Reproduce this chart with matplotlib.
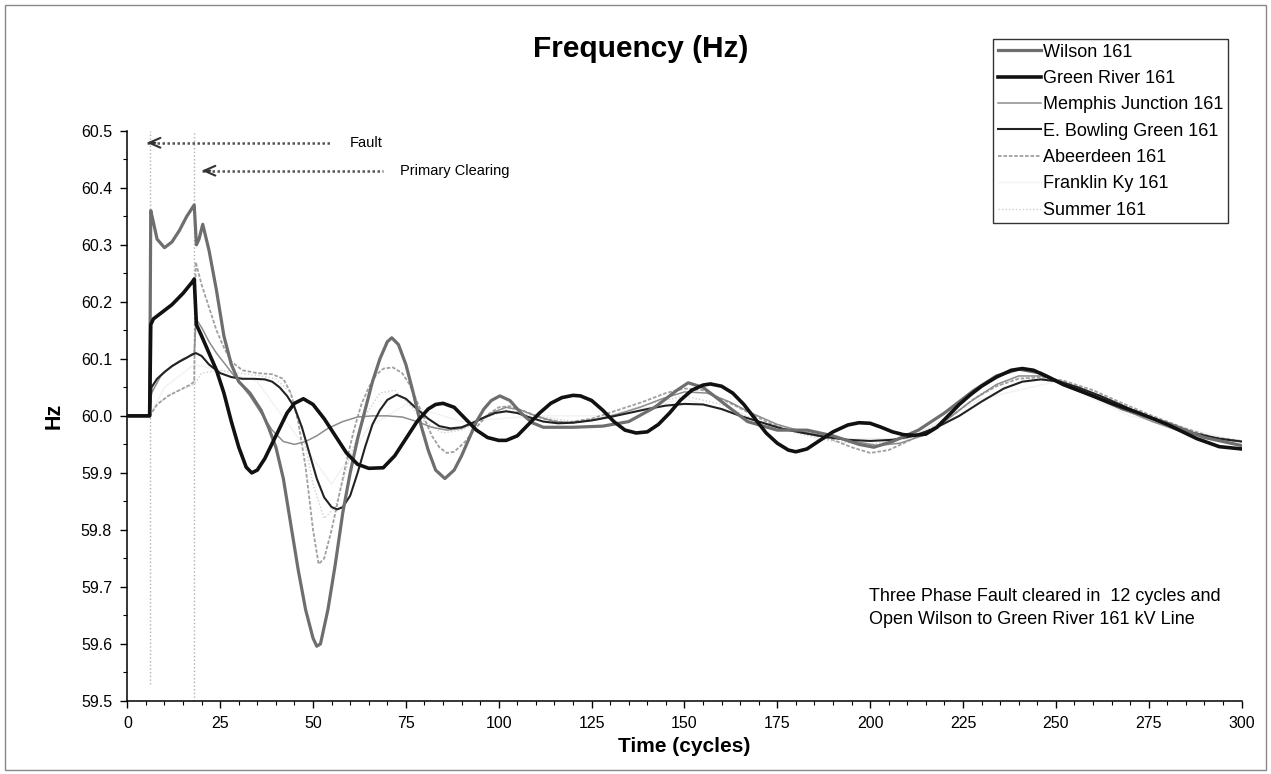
import matplotlib
matplotlib.use("Agg")
import matplotlib.pyplot as plt
from matplotlib.patches import Rectangle
from matplotlib.ticker import MultipleLocator, FormatStrFormatter

plt.rcParams['font.family'] = ['Liberation Sans', 'DejaVu Sans']

# ---- data (time in cycles, frequency in Hz) ----
wilson_t = [0, 6, 6.3, 7, 8, 10, 12, 14, 16, 18, 18.6, 19.3, 20.3, 22, 24, 26, 28, 30, 33, 36,
            38, 40, 42, 44, 46, 48, 50, 51, 52, 54, 56, 58, 60, 62, 64, 66, 68, 70, 71.2, 73,
            75, 77, 79, 81, 83, 85.5, 88, 90, 92, 94, 96, 98, 100.3, 103, 106, 109, 112, 120,
            128, 135, 142, 148, 151, 155, 160, 167, 175, 183, 190, 197, 201, 206, 213, 220,
            228, 234, 240, 246, 252, 260, 268, 275, 281, 290, 300]
wilson_f = [60.0, 60.0, 60.36, 60.34, 60.31, 60.295, 60.305, 60.325, 60.35, 60.37, 60.30, 60.31,
            60.336, 60.29, 60.22, 60.14, 60.09, 60.06, 60.04, 60.01, 59.98, 59.945, 59.89, 59.81,
            59.73, 59.66, 59.61, 59.596, 59.60, 59.66, 59.74, 59.83, 59.90, 59.96, 60.01, 60.06,
            60.10, 60.13, 60.137, 60.125, 60.09, 60.04, 59.985, 59.94, 59.905, 59.89, 59.905,
            59.93, 59.96, 59.99, 60.012, 60.027, 60.035, 60.027, 60.005, 59.988, 59.98, 59.98,
            59.982, 59.99, 60.015, 60.045, 60.058, 60.05, 60.025, 59.99, 59.975, 59.975, 59.965,
            59.95, 59.945, 59.955, 59.975, 60.005, 60.045, 60.07, 60.082, 60.075, 60.055, 60.035,
            60.012, 59.998, 59.985, 59.962, 59.948]

green_t = [0, 6, 6.3, 7, 9, 12, 15, 17.5, 18, 18.6, 20, 22, 24, 26, 28, 30, 32, 33.5, 35, 37, 40,
           43, 45, 47.4, 50, 53, 56, 59, 62, 65, 68.9, 72, 75, 78, 81, 83, 85, 88, 91, 94, 97, 100,
           102, 105, 108, 111, 114, 117, 120, 122, 125, 128, 131, 134, 137, 140, 143, 146, 149,
           152, 155, 157, 160, 163, 166, 169, 172, 175, 178, 180, 183, 186, 190, 194, 197, 200,
           203, 206, 209, 212, 215, 218, 221, 224, 227, 230, 234, 238, 241, 244, 248, 252, 258,
           265, 272, 280, 288, 294, 300]
green_f = [60.0, 60.0, 60.16, 60.17, 60.18, 60.195, 60.215, 60.235, 60.24, 60.16, 60.14, 60.11,
           60.08, 60.04, 59.99, 59.945, 59.91, 59.90, 59.905, 59.925, 59.965, 60.005, 60.022,
           60.03, 60.02, 59.995, 59.965, 59.935, 59.915, 59.908, 59.909, 59.93, 59.96, 59.99,
           60.012, 60.02, 60.022, 60.015, 59.995, 59.975, 59.962, 59.957, 59.957, 59.965, 59.985,
           60.005, 60.022, 60.032, 60.036, 60.035, 60.027, 60.01, 59.99, 59.975, 59.97, 59.972,
           59.985, 60.005, 60.028, 60.045, 60.054, 60.056, 60.052, 60.04, 60.02, 59.995, 59.97,
           59.952, 59.94, 59.937, 59.942, 59.955, 59.972, 59.984, 59.988, 59.987, 59.98, 59.972,
           59.967, 59.966, 59.968, 59.98, 60.0, 60.02, 60.037, 60.052, 60.068, 60.08, 60.083,
           60.08, 60.068, 60.055, 60.04, 60.022, 60.006, 59.985, 59.96, 59.946, 59.942]

memphis_t = [0, 6, 6.5, 9, 12, 15, 18, 18.5, 20, 22, 24, 27, 30, 33, 36, 39, 42, 45, 48, 51, 54,
             58, 62, 66, 70, 74, 78, 82, 86, 90, 94, 98, 102, 106, 110, 115, 120, 126, 132, 138,
             144, 150, 156, 162, 168, 175, 182, 189, 196, 202, 208, 214, 220, 227, 234, 240, 246,
             252, 260, 268, 276, 284, 292, 300]
memphis_f = [60.0, 60.0, 60.04, 60.07, 60.088, 60.1, 60.108, 60.17, 60.155, 60.13, 60.11, 60.085,
             60.06, 60.035, 60.005, 59.975, 59.955, 59.95, 59.955, 59.965, 59.978, 59.99, 59.998,
             60.0, 60.0, 59.998, 59.99, 59.98, 59.975, 59.978, 59.99, 60.005, 60.015, 60.01, 60.0,
             59.99, 59.988, 59.993, 60.003, 60.015, 60.03, 60.042, 60.04, 60.025, 60.005, 59.985,
             59.972, 59.963, 59.955, 59.948, 59.952, 59.965, 59.99, 60.025, 60.055, 60.07, 60.07,
             60.06, 60.038, 60.012, 59.99, 59.972, 59.96, 59.955]

bowling_t = [0, 6, 6.5, 8, 10, 12, 14, 16, 17.5, 18.5, 20, 22, 25, 28, 31, 34, 37, 39, 41, 43, 45,
             47, 49, 51, 53, 55, 56.5, 58, 60, 62, 64, 66, 68, 70, 72.5, 75, 78, 81, 84, 87, 90,
             93, 96, 99, 102, 105, 108, 112, 116, 120, 125, 130, 135, 140, 145, 150, 155, 160,
             165, 170, 176, 182, 188, 194, 200, 206, 212, 218, 224, 230, 236, 241, 246, 251, 256,
             262, 268, 274, 280, 287, 294, 300]
bowling_f = [60.0, 60.0, 60.05, 60.065, 60.077, 60.087, 60.095, 60.102, 60.108, 60.11, 60.105,
             60.09, 60.075, 60.068, 60.065, 60.065, 60.064, 60.06, 60.05, 60.035, 60.015, 59.98,
             59.935, 59.89, 59.857, 59.84, 59.836, 59.84, 59.86, 59.9, 59.945, 59.985, 60.01,
             60.028, 60.037, 60.03, 60.012, 59.995, 59.982, 59.978, 59.98, 59.988, 59.997, 60.005,
             60.008, 60.005, 59.998, 59.99, 59.987, 59.988, 59.992, 59.998, 60.005, 60.012, 60.018,
             60.021, 60.02, 60.012, 60.0, 59.99, 59.978, 59.97, 59.963, 59.958, 59.956, 59.958,
             59.965, 59.98, 60.0, 60.025, 60.048, 60.06, 60.064, 60.06, 60.05, 60.035, 60.018,
             60.0, 59.985, 59.97, 59.96, 59.955]

abeer_t = [0, 6, 8, 11, 14, 17, 18, 18.4, 20, 22, 24, 26, 28, 31, 35, 39, 42, 44, 46, 48, 50,
           51.5, 53, 55, 57, 59, 61, 63, 65, 67, 69, 71.5, 74, 76, 78, 80, 82, 84, 86, 88, 91, 94,
           97, 100, 103, 107, 112, 118, 125, 132, 139, 145, 150, 155, 160, 166, 172, 178, 184,
           190, 195, 200, 205, 210, 216, 222, 228, 234, 240, 246, 252, 260, 268, 276, 284, 292, 300]
abeer_f = [60.0, 60.0, 60.02, 60.035, 60.045, 60.055, 60.06, 60.27, 60.23, 60.19, 60.15, 60.12,
           60.095, 60.08, 60.075, 60.073, 60.065, 60.04, 59.99, 59.91, 59.8, 59.74, 59.75, 59.8,
           59.86, 59.92, 59.975, 60.02, 60.05, 60.072, 60.083, 60.085, 60.075, 60.055, 60.025,
           59.995, 59.965, 59.945, 59.935, 59.937, 59.955, 59.98, 60.002, 60.015, 60.017, 60.008,
           59.995, 59.988, 59.995, 60.01, 60.025, 60.04, 60.048, 60.045, 60.03, 60.01, 59.99,
           59.975, 59.968, 59.958, 59.945, 59.935, 59.94, 59.955, 59.975, 60.0, 60.03, 60.052,
           60.065, 60.068, 60.062, 60.045, 60.022, 60.0, 59.98, 59.963, 59.956]

franklin_t = [0, 6, 10, 18, 25, 35, 45, 55, 65, 75, 90, 110, 130, 150, 170, 190, 210, 230, 250,
              270, 300]
franklin_f = [60.0, 60.0, 60.05, 60.09, 60.08, 60.06, 59.97, 59.88, 59.98, 60.02, 59.99, 60.0,
              60.0, 60.03, 59.99, 59.96, 59.96, 60.03, 60.06, 60.0, 59.955]

summer_t = [0, 6, 8, 12, 18, 20, 25, 30, 36, 40, 44, 47, 50, 53, 56, 60, 64, 68, 72, 76, 80, 85,
            90, 96, 102, 110, 120, 130, 140, 150, 160, 170, 180, 190, 200, 210, 220, 230, 240,
            250, 260, 270, 280, 290, 300]
summer_f = [60.0, 60.0, 60.02, 60.04, 60.055, 60.075, 60.08, 60.075, 60.07, 60.065, 60.04, 59.98,
            59.88, 59.82, 59.84, 59.93, 60.0, 60.04, 60.045, 60.02, 59.99, 59.97, 59.975, 59.995,
            60.01, 60.0, 59.99, 60.0, 60.02, 60.035, 60.02, 59.99, 59.97, 59.955, 59.95, 59.96,
            59.99, 60.04, 60.068, 60.06, 60.035, 60.005, 59.98, 59.962, 59.955]

fault_cycle = 6
clearing_cycle = 18

# ---- canvas ----
fig = plt.figure(figsize=(12.71, 7.74), dpi=100)
ax = fig.add_axes([0.1002, 0.0944, 0.8766, 0.7366])

# event markers
ax.vlines(fault_cycle, 59.53, 60.5, colors="#b0b0b0", linestyles=":", linewidth=1, zorder=1)
ax.vlines(clearing_cycle, 59.5, 60.5, colors="#b0b0b0", linestyles=":", linewidth=1, zorder=1)

# series (drawing order: faint first, bold last)
ax.plot(franklin_t, franklin_f, color="#f2f2f2", lw=1.0, label="Franklin Ky 161", zorder=2)
ax.plot(summer_t, summer_f, color="#cfcfcf", lw=1.0, ls=(0, (1, 1.5)), label="Summer 161", zorder=2)
ax.plot(abeer_t, abeer_f, color="#a0a0a0", lw=1.3, ls=(0, (2, 1)), label="Abeerdeen 161", zorder=3)
ax.plot(memphis_t, memphis_f, color="#8c8c8c", lw=1.1, label="Memphis Junction 161", zorder=3)
ax.plot(bowling_t, bowling_f, color="#222222", lw=1.5, label="E. Bowling Green 161", zorder=4)
ax.plot(wilson_t, wilson_f, color="#6e6e6e", lw=2.3, label="Wilson 161", zorder=4)
ax.plot(green_t, green_f, color="#111111", lw=2.6, label="Green River 161", zorder=5)

# axes
ax.set_xlim(0, 300)
ax.set_ylim(59.5, 60.5)
ax.xaxis.set_major_locator(MultipleLocator(25))
ax.xaxis.set_minor_locator(MultipleLocator(5))
ax.yaxis.set_major_locator(MultipleLocator(0.1))
ax.yaxis.set_minor_locator(MultipleLocator(0.05))
ax.yaxis.set_major_formatter(FormatStrFormatter("%.1f"))
ax.tick_params(which="major", direction="out", length=5, width=1, labelsize=11.5, pad=6)
ax.tick_params(which="minor", direction="out", length=3, width=0.8)
for side in ("top", "right"):
    ax.spines[side].set_visible(False)
for side in ("left", "bottom"):
    ax.spines[side].set_linewidth(1.1)

ax.set_xlabel("Time (cycles)", fontsize=15, fontweight="bold", labelpad=4)
ax.set_ylabel("Hz", fontsize=15.5, fontweight="bold", labelpad=12)
fig.text(0.504, 1 - 49 / 774, "Frequency (Hz)", fontsize=21.5, fontweight="bold",
         ha="center", va="center")

# fault / clearing arrows
arrow_kw = dict(arrowstyle="->,head_length=0.8,head_width=0.35", color="#333333", lw=1.5,
                shrinkA=0, shrinkB=0)
fault_y, clear_y = 60.479, 60.43
ax.plot([5.4, 54.6], [fault_y, fault_y], color="#555555", lw=1.8, ls=(0, (1, 1)))
ax.annotate("", xy=(5.2, fault_y), xytext=(7.5, fault_y), arrowprops=arrow_kw)
ax.text(59.9, fault_y, "Fault", fontsize=10.5, va="center", ha="left")
ax.plot([20.2, 68.8], [clear_y, clear_y], color="#555555", lw=1.8, ls=(0, (1, 1)))
ax.annotate("", xy=(20.0, clear_y), xytext=(22.3, clear_y), arrowprops=arrow_kw)
ax.text(73.4, clear_y, "Primary Clearing", fontsize=10.5, va="center", ha="left")

ax.text(199.8, 59.663, "Three Phase Fault cleared in  12 cycles and\nOpen Wilson to Green River 161 kV Line",
        fontsize=13, va="center", ha="left", linespacing=1.45)

# legend in Excel order
handles, labels = ax.get_legend_handles_labels()
order = ["Wilson 161", "Green River 161", "Memphis Junction 161", "E. Bowling Green 161",
         "Abeerdeen 161", "Franklin Ky 161", "Summer 161"]
hmap = dict(zip(labels, handles))
leg = fig.legend([hmap[k] for k in order], order, loc="upper right",
                 bbox_to_anchor=(1228 / 1271, 1 - 39 / 774), fontsize=13, frameon=True,
                 fancybox=False, edgecolor="black", handlelength=2.4, handletextpad=0.1,
                 labelspacing=0.52, borderpad=0.25, borderaxespad=0)
leg.get_frame().set_linewidth(1.0)

# outer border of the chart area
fig.patches.append(Rectangle((5 / 1271, 4 / 774), 1 - 10 / 1271, 1 - 9 / 774, fill=False,
                             edgecolor="#888888", lw=1, transform=fig.transFigure))

fig.savefig("out.png", dpi=100)
